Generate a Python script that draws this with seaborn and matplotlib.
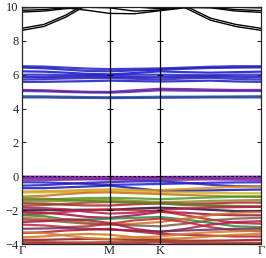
import numpy as np
import pandas as pd
import matplotlib
matplotlib.use('Agg')
import matplotlib.pyplot as plt
import seaborn as sns

sns.set_style('ticks')
plt.rcParams['font.family'] = ['Liberation Serif', 'DejaVu Serif']

# path Gamma-M-K-Gamma (hexagonal), sampled points
k = [0.0, 0.2165, 0.433, 0.6495, 0.866, 1.116, 1.366, 1.616, 1.866, 2.116, 2.366]
k_ticks = [0.0, 0.866, 1.366, 2.366]
k_labels = ['Γ', 'M', 'K', 'Γ']

# conduction bands (black)
cond_black = [
    [8.62, 8.85, 9.40, 10.15, 10.5, 10.6, 10.5, 9.95, 9.22, 8.85, 8.62],
    [8.74, 8.97, 9.52, 10.27, 10.6, 10.7, 10.6, 10.07, 9.34, 8.97, 8.74],
    [9.80, 9.85, 9.95, 9.80, 9.62, 9.60, 9.78, 9.95, 9.97, 9.85, 9.78],
    [9.70, 9.76, 9.90, 9.98, 9.95, 9.75, 9.82, 10.0, 9.95, 9.76, 9.68],
    [9.95, 9.97, 10.05, 10.1, 10.1, 10.0, 9.90, 10.0, 10.05, 9.98, 9.95],
]

# conduction bands around 5-6.5 eV
cond_blue = [
    [6.50, 6.48, 6.42, 6.36, 6.33, 6.35, 6.37, 6.42, 6.47, 6.50, 6.50],
    [6.42, 6.38, 6.30, 6.22, 6.20, 6.25, 6.30, 6.35, 6.40, 6.42, 6.43],
    [6.20, 6.18, 6.12, 6.05, 6.02, 6.10, 6.20, 6.15, 6.12, 6.15, 6.18],
    [6.00, 6.00, 5.98, 5.97, 5.98, 6.00, 6.00, 5.98, 5.97, 6.00, 6.00],
    [5.86, 5.86, 5.88, 5.90, 5.88, 5.86, 5.85, 5.88, 5.90, 5.88, 5.86],
    [5.72, 5.74, 5.78, 5.80, 5.80, 5.76, 5.72, 5.78, 5.82, 5.75, 5.72],
    [5.58, 5.58, 5.60, 5.62, 5.65, 5.62, 5.60, 5.62, 5.65, 5.60, 5.58],
    [5.10, 5.08, 5.03, 4.99, 4.98, 5.08, 5.17, 5.15, 5.12, 5.10, 5.10],
    [5.04, 5.02, 4.98, 4.95, 4.94, 5.00, 5.08, 5.06, 5.05, 5.04, 5.04],
    [4.73, 4.72, 4.70, 4.68, 4.67, 4.68, 4.70, 4.70, 4.71, 4.72, 4.73],
    [4.66, 4.66, 4.64, 4.63, 4.62, 4.63, 4.64, 4.65, 4.66, 4.66, 4.66],
]
cond_blue_colors = ['#2020c8', '#1a1ab8', '#1010d0', '#2525c0', '#1515c8', '#2a20b8',
                    '#1818c0', '#6a1aa0', '#5a20a8', '#1f5fa8', '#2a3a9a']

# valence bands
valence = [
    [-0.02, -0.02, -0.03, -0.04, -0.04, -0.04, -0.04, -0.03, -0.03, -0.02, -0.02],
    [-0.10, -0.10, -0.12, -0.15, -0.16, -0.12, -0.10, -0.10, -0.12, -0.12, -0.10],
    [-0.22, -0.22, -0.20, -0.18, -0.18, -0.20, -0.22, -0.20, -0.18, -0.20, -0.22],
    [-0.35, -0.36, -0.40, -0.45, -0.50, -0.48, -0.45, -0.42, -0.38, -0.36, -0.35],
    [-0.55, -0.52, -0.45, -0.38, -0.34, -0.30, -0.30, -0.38, -0.50, -0.58, -0.60],
    [-0.70, -0.70, -0.65, -0.60, -0.55, -0.70, -0.85, -0.85, -0.83, -0.80, -0.78],
    [-0.90, -0.88, -0.85, -0.80, -0.77, -0.80, -0.82, -0.75, -0.68, -0.62, -0.60],
    [-0.95, -0.95, -0.93, -0.90, -0.88, -0.90, -0.95, -0.95, -0.98, -1.00, -1.00],
    [-1.20, -1.15, -1.05, -0.97, -0.95, -1.00, -1.05, -1.10, -1.15, -1.20, -1.22],
    [-1.40, -1.38, -1.32, -1.28, -1.27, -1.30, -1.35, -1.30, -1.25, -1.20, -1.18],
    [-1.50, -1.48, -1.45, -1.40, -1.38, -1.45, -1.52, -1.50, -1.45, -1.42, -1.40],
    [-1.60, -1.62, -1.68, -1.72, -1.72, -1.65, -1.60, -1.62, -1.60, -1.55, -1.55],
    [-1.75, -1.70, -1.62, -1.55, -1.52, -1.55, -1.60, -1.70, -1.75, -1.78, -1.80],
    [-2.00, -2.00, -1.98, -1.97, -1.98, -1.90, -1.85, -1.90, -1.98, -2.05, -2.05],
    [-2.10, -2.15, -2.25, -2.40, -2.45, -2.30, -2.10, -2.15, -2.25, -2.30, -2.30],
    [-2.25, -2.20, -2.10, -2.00, -1.95, -2.00, -2.05, -2.30, -2.55, -2.75, -2.80],
    [-2.30, -2.35, -2.55, -2.55, -2.50, -2.45, -2.40, -2.55, -2.75, -2.95, -3.00],
    [-2.45, -2.50, -2.60, -2.75, -2.85, -2.80, -2.70, -2.50, -2.30, -2.15, -2.10],
    [-2.55, -2.60, -2.70, -2.80, -2.85, -2.90, -2.95, -2.80, -2.60, -2.50, -2.45],
    [-2.70, -2.65, -2.55, -2.60, -2.75, -3.10, -3.30, -3.10, -2.85, -2.70, -2.65],
    [-2.85, -2.90, -3.00, -2.95, -2.80, -2.60, -2.50, -2.70, -3.00, -3.20, -3.25],
    [-3.10, -3.08, -3.05, -3.10, -3.15, -3.20, -3.25, -3.20, -3.15, -3.10, -3.10],
    [-3.35, -3.30, -3.20, -3.15, -3.10, -3.25, -3.40, -3.45, -3.50, -3.55, -3.55],
    [-3.60, -3.55, -3.45, -3.40, -3.45, -3.60, -3.70, -3.65, -3.55, -3.45, -3.40],
    [-3.75, -3.75, -3.72, -3.70, -3.72, -3.75, -3.78, -3.80, -3.80, -3.78, -3.75],
    [-3.85, -3.88, -3.90, -3.90, -3.88, -3.85, -3.80, -3.85, -3.90, -3.92, -3.92],
    [-3.95, -3.95, -3.97, -3.98, -3.98, -3.95, -3.90, -3.95, -3.98, -3.98, -3.97],
    [-3.30, -3.35, -3.50, -3.65, -3.70, -3.60, -3.55, -3.40, -3.30, -3.25, -3.20],
    [-1.30, -1.32, -1.38, -1.45, -1.50, -1.55, -1.60, -1.65, -1.70, -1.75, -1.78],
    [-1.85, -1.88, -1.95, -2.10, -2.20, -2.15, -2.00, -1.90, -1.85, -1.82, -1.80],
]
valence_colors = ['#7a1aa8', '#6a20b0', '#8a2090', '#1a20d0', '#2020c0', '#1515b0',
                  '#e0901a', '#c8b820', '#c87020', '#4a9a20', '#8a8a30', '#b02030',
                  '#8a5020', '#201030', '#a01040', '#c02030', '#2a8a40', '#d07020',
                  '#7a6040', '#b01848', '#c02838', '#6a3060', '#b01830', '#d07818',
                  '#901020', '#a05018', '#b02040', '#d08030', '#6a8020', '#b02050']


def long_form(bands, colors, start):
    rows = []
    pal = {}
    for i, (vals, c) in enumerate(zip(bands, colors)):
        for kk, e in zip(k, vals):
            rows.append({'k': kk, 'E': e, 'band': start + i})
        pal[start + i] = c
    return pd.DataFrame(rows), pal


df_black, pal_black = long_form(cond_black, ['#000000'] * len(cond_black), 0)
df_col, pal_col = long_form(cond_blue + valence, cond_blue_colors + valence_colors, 100)

fig = plt.figure(figsize=(2.66, 2.58), dpi=100)
ax = fig.add_axes([0.083, 0.054, 0.898, 0.919])

sns.lineplot(data=df_col, x='k', y='E', hue='band', palette=pal_col, legend=False,
             sort=False, estimator=None, lw=1.6, alpha=0.85, ax=ax)
sns.lineplot(data=df_black, x='k', y='E', hue='band', palette=pal_black, legend=False,
             sort=False, estimator=None, lw=1.0, ax=ax)

for kv in k_ticks[1:-1]:
    ax.axvline(kv, color='black', lw=0.9)
    ax.plot([kv] * 7, np.arange(-4, 10, 2), ls='none', marker='_', ms=4,
            mew=0.8, color='black')
ax.axhline(0, color='black', lw=0.8, ls=(0, (2, 2)))

ax.set_xlim(k_ticks[0], k_ticks[-1])
ax.set_ylim(-4, 10)
ax.set_xticks(k_ticks)
ax.set_xticklabels(k_labels)
ax.set_yticks(np.arange(-4, 11, 2))
ax.tick_params(axis='both', direction='in', labelsize=9, length=3, width=0.8,
               pad=2.5, right=True, top=True)
ax.tick_params(axis='x', length=0, pad=1)
ax.set_xlabel('')
ax.set_ylabel('')
for s in ax.spines.values():
    s.set_linewidth(0.9)

fig.savefig('out.png', dpi=100)
